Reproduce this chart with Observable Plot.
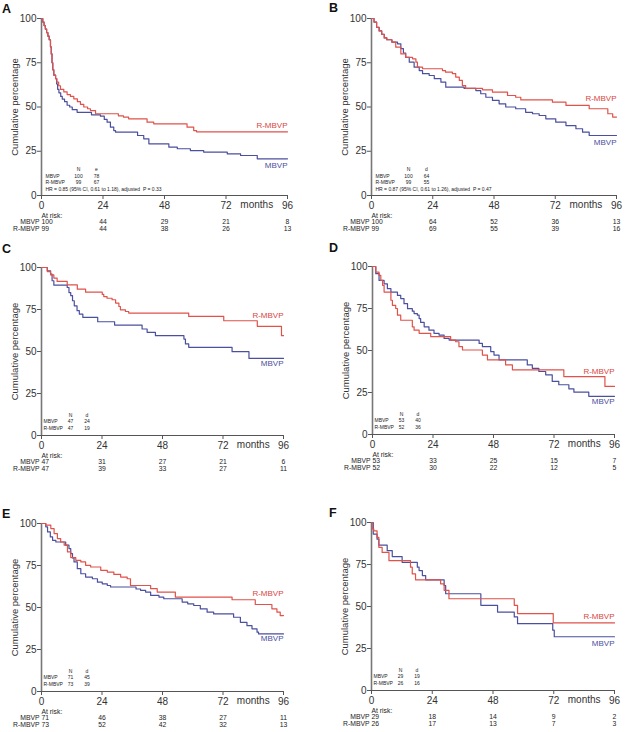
<!DOCTYPE html>
<html><head><meta charset="utf-8">
<script src="https://cdn.jsdelivr.net/npm/d3@7"></script>
<script src="https://cdn.jsdelivr.net/npm/@observablehq/plot@0.6"></script>
<style>
body{margin:0;background:#fff;font-family:"Liberation Sans",Arial,sans-serif;}
#root{position:relative;width:625px;height:732px;overflow:hidden;}
.panel{position:absolute;}
.letter{position:absolute;font-weight:bold;font-size:12.5px;line-height:1;color:#111;}
</style></head>
<body><div id="root"></div>
<script>
// ---------- data ----------
const xTicks = [0, 24, 48, 72, 96];
const yTicks = [0, 25, 50, 75, 100];
const riskTimes = [0, 24, 48, 72, 96];
const groups = ["MBVP", "R-MBVP"];

// Panel A
const mbvpA = [[0,100],[0.5,98],[1,96],[1.5,94],[2,92],[2.5,90],[3,88],[3.5,84],[3.8,80],[4.1,75],[4.4,71],[4.8,68],[5.5,66],[5.9,63],[6.3,60],[6.8,58],[7.5,56],[8.1,54.5],[9,53],[10,51],[11,50],[12,48.5],[13.9,47],[19.5,45.6],[23,44.8],[24.5,43],[25.6,41.4],[26.9,38.6],[28.2,36.7],[28.9,35.8],[37.5,33.9],[39.9,32],[41.9,29.2],[49.7,27.3],[53,26.4],[58.1,25.4],[63.3,24.5],[72.5,23.5],[77.7,22.6],[84.2,20.7],[96,20.7]];
const rmbvpA = [[0,100],[0.5,98],[1,96],[1.5,94],[2,92],[2.5,90],[3,88],[3.5,84],[3.8,80],[4.1,75],[4.4,71],[4.8,68],[5.5,66],[6,64],[6.7,62],[7.4,60],[8.7,58.5],[10,57],[11.3,56],[12.6,54.6],[14,53],[15.2,51.5],[16.5,50],[18,49],[19.1,48],[21.1,46.2],[30,45],[32,44.3],[34,43.3],[41.2,41.4],[43.8,40.5],[56.8,38.6],[59.4,36.7],[60.5,36],[96,36]];
const riskA_MBVP = [100, 44, 29, 21, 8];
const riskA_RMBVP = [99, 44, 38, 26, 13];
const nA = [100, 99];
const eventsA = [78, 67];
const hrA = "HR = 0.85 (95% CI, 0.61 to 1.18), adjusted  P = 0.33";
const labelYA = [17, 39.5];

// Panel B
const mbvpB = [[0,100],[1,98],[2,95],[3,93],[4,91],[5,89],[6,88],[8,86.6],[10.2,85.7],[11.5,83],[12.5,80.5],[13.4,78],[14.8,75.3],[16.7,72.5],[18.7,70.6],[20,68.8],[22.6,67.8],[24.6,66],[27.2,64],[29.1,61.2],[36.3,60.5],[40.9,59.3],[42.8,57.5],[44.8,55.5],[47.4,53.7],[50,51.8],[52.6,50],[56.5,49],[60.4,47],[63.1,46.2],[65.7,45.2],[68.3,43.3],[72.2,41.4],[76.2,39.5],[80.1,37.7],[82.7,35.8],[85.3,33.9],[96,33.9]];
const rmbvpB = [[0,100],[1,98],[2,95],[3,93],[4,91],[5,89],[6,88],[8,86.6],[9.5,83.8],[11.5,80],[13.4,78],[16.1,77.2],[17.4,75.3],[18,72.5],[20,71.6],[27.8,70.6],[29,69.7],[31.7,68.8],[33,66.9],[34.4,65],[35.6,62.1],[36.9,60.5],[43.5,59.7],[47.4,58.4],[53.3,56.5],[56.5,55.5],[58.5,54],[70.9,52.7],[76.2,50.9],[85.3,49],[92.6,46.2],[94.5,44.3],[96,44.3]];
const riskB_MBVP = [100, 64, 52, 36, 13];
const riskB_RMBVP = [99, 69, 55, 39, 16];
const nB = [100, 99];
const eventsB = [64, 55];
const hrB = "HR = 0.87 (95% CI, 0.61 to 1.26), adjusted  P = 0.47";
const labelYB = [30, 54.6];

// Panel C
const mbvpC = [[0,100],[2.3,98],[3.6,96],[4.2,92.1],[4.9,89.5],[10.2,88.1],[10.9,85.1],[11.6,83.2],[12.3,80.2],[13,77.2],[14.1,74.3],[15,72.3],[16.4,70.3],[22.3,67.7],[29,65.7],[39.9,63.4],[41.9,61.4],[45.2,59.4],[56.5,57.4],[57.1,54.5],[58.4,52.5],[75.6,49.9],[82.3,45.9],[96,45.9]];
const rmbvpC = [[0,100],[2.3,97.6],[3.6,95.6],[4.9,93.7],[6.2,91.7],[10.2,89.7],[14.2,87.1],[17.5,85.3],[24.1,84],[24.7,82.7],[26,81.7],[28,80.8],[29.4,78.8],[30.7,76.8],[31.3,74.8],[33.3,73.8],[34.6,72.9],[58.4,70.9],[72.3,68.3],[85.6,65],[95.2,59.4],[96,59.4]];
const riskC_MBVP = [47, 31, 27, 21, 6];
const riskC_RMBVP = [47, 39, 33, 27, 11];
const nC = [47, 47];
const eventsC = [24, 19];
const labelYC = [42.6, 71.3];

// Panel D
const mbvpD = [[0,100],[1.3,95.7],[2.6,91.7],[4.6,89.7],[5.9,86.8],[7.3,84.8],[9.9,82.8],[11.2,80.9],[12.5,77.9],[13.9,74.9],[15.8,73.4],[16.5,72],[17.8,71],[18.5,69],[19.1,66.7],[20.5,64.1],[22.4,62.1],[24.4,60.2],[26.4,59.2],[28.4,57.2],[30.4,56.2],[42.3,54.2],[43.6,52.3],[46.9,49.3],[48.2,47.3],[50.2,44.4],[61.4,41.4],[63.4,39.4],[66,37.5],[68.7,35.5],[71.3,31.6],[73.9,29.6],[77.9,27.2],[79.9,25.2],[85.8,22.7],[96,22.7]];
const rmbvpD = [[0,100],[1.3,96.6],[2.6,94.7],[3.3,91.7],[4,88.8],[4.6,84.8],[7.3,79.9],[7.9,76.9],[9.2,75],[9.9,71],[11.2,68],[15.8,64.1],[16.5,62.1],[18.5,60.2],[23.1,58.2],[31,56.2],[33,55.2],[34.3,52.3],[35.7,50.3],[43.6,47.3],[45.6,44.4],[52.8,41.4],[55.5,38.5],[75.9,34.5],[92.2,28.6],[96,28.6]];
const riskD_MBVP = [53, 33, 25, 15, 7];
const riskD_RMBVP = [52, 30, 22, 12, 5];
const nD = [53, 52];
const eventsD = [40, 36];
const labelYD = [19.7, 37.8];

// Panel E
const mbvpE = [[0,100],[1.7,98],[2.4,95],[3.5,92],[4.4,90],[5.7,89],[9.6,87.1],[10.9,85.1],[11.6,82.1],[12.3,79.5],[12.9,77.1],[14.2,73.1],[15.6,70.1],[17.5,68.1],[20.2,67.1],[22.2,65.1],[24.1,64.1],[26.1,63.1],[27.4,62.2],[37.5,61],[39.3,60.2],[41.3,59.2],[43.3,57.2],[46.6,56.2],[48.5,55.2],[55.8,53.2],[58,52.2],[60.4,51.2],[63,49.2],[65.7,47.2],[68.3,46.2],[76.2,44.2],[78.9,41.2],[81.5,39.2],[83.5,37.3],[85.5,35.3],[86.1,34.3],[96,34.3]];
const rmbvpE = [[0,100],[1.7,99],[3.7,97],[5,94],[6.3,91],[7.6,89],[9,87.1],[10.3,83.1],[11.6,79.7],[13.6,78.1],[15.6,77.1],[17.5,75.1],[19.5,74.1],[23.5,72.1],[26.1,71.1],[28.7,69.7],[31.4,68.1],[34,67.1],[35.3,63.1],[43.3,61.2],[45.9,59.2],[53.1,56.2],[75.6,54.6],[84.8,51.8],[91.4,49.2],[93.4,47.2],[94.7,45.2],[96,45.2]];
const riskE_MBVP = [71, 46, 38, 27, 11];
const riskE_RMBVP = [73, 52, 42, 32, 13];
const nE = [71, 73];
const eventsE = [45, 39];
const labelYE = [31.3, 58.2];

// Panel F
const mbvpF = [[0,100],[0.7,93.1],[2.2,90.1],[2.9,86.5],[6.2,83.2],[8.2,79.7],[12.1,76.3],[18.1,73.4],[18.8,71.4],[20.1,68.4],[21.4,65.9],[28.7,62.5],[29.3,57.6],[43.2,50.7],[49.8,46.7],[56.4,43.8],[57.7,39.8],[71.6,35.9],[72.2,32],[96,32]];
const rmbvpF = [[0,100],[0.3,96.2],[0.9,95],[2.2,91.1],[2.9,85.2],[4.2,82.2],[6.9,77.3],[15.4,73.4],[16.1,69.4],[17.4,65.9],[27.3,63.5],[28.7,59.6],[30.6,54.6],[56.4,50.7],[57.7,45.8],[71.8,40.2],[96,40.2]];
const riskF_MBVP = [29, 18, 14, 9, 2];
const riskF_RMBVP = [26, 17, 13, 7, 3];
const nF = [29, 26];
const eventsF = [19, 16];
const labelYF = [28, 44.2];

// ---------- styling ----------
const BLUE = "#4a4f9e";
const RED = "#e0524a";
const RED_TXT = "#d9463f";
const INK = "#222";

const panels = [
  {letter:"A", left:0,   top:0,   width:312, height:240, mt:18, mb:45, ml:41, mr:25, lx:2,   ly:3,
   mbvp:mbvpA, rmbvp:rmbvpA, risk:[riskA_MBVP, riskA_RMBVP], n:nA, ev:eventsA, evLabel:"e", hr:hrA, labelY:labelYA},
  {letter:"B", left:312, top:0,   width:313, height:240, mt:18, mb:45, ml:59, mr:9,  lx:329, ly:2,
   mbvp:mbvpB, rmbvp:rmbvpB, risk:[riskB_MBVP, riskB_RMBVP], n:nB, ev:eventsB, evLabel:"d", hr:hrB, labelY:labelYB},
  {letter:"C", left:0,   top:240, width:312, height:240, mt:27, mb:45, ml:41, mr:29, lx:2,   ly:243,
   mbvp:mbvpC, rmbvp:rmbvpC, risk:[riskC_MBVP, riskC_RMBVP], n:nC, ev:eventsC, evLabel:"d", hr:null, labelY:labelYC},
  {letter:"D", left:312, top:240, width:313, height:239, mt:26, mb:45, ml:60, mr:11, lx:329, ly:242,
   mbvp:mbvpD, rmbvp:rmbvpD, risk:[riskD_MBVP, riskD_RMBVP], n:nD, ev:eventsD, evLabel:"d", hr:null, labelY:labelYD},
  {letter:"E", left:0,   top:495, width:312, height:237, mt:28, mb:41, ml:41, mr:29, lx:2,   ly:508,
   mbvp:mbvpE, rmbvp:rmbvpE, risk:[riskE_MBVP, riskE_RMBVP], n:nE, ev:eventsE, evLabel:"d", hr:null, labelY:labelYE},
  {letter:"F", left:312, top:495, width:313, height:236, mt:27, mb:41, ml:59, mr:11, lx:329, ly:507,
   mbvp:mbvpF, rmbvp:rmbvpF, risk:[riskF_MBVP, riskF_RMBVP], n:nF, ev:eventsF, evLabel:"d", hr:null, labelY:labelYF}
];

function legendMarks(p) {
  const big = !!p.hr;
  const rows = big ? [-24.5, -18, -11.5] : [-19, -12.3, -5.5];
  const cLab = big ? 4 : 2, cN = big ? 37 : 29, cE = big ? 55 : 45.5;
  const fs = 5;
  const t = (str, dx, dy, anchor) => Plot.text([str], {text: d => d, frameAnchor: "bottom-left", dx, dy, textAnchor: anchor, fontSize: fs, fill: INK});
  const m = [
    t("N", cN, rows[0], "middle"), t(p.evLabel, cE, rows[0], "middle")
  ];
  groups.forEach((g, i) => {
    m.push(t(g, cLab, rows[i + 1], "start"));
    m.push(t(String(p.n[i]), cN, rows[i + 1], "middle"));
    m.push(t(String(p.ev[i]), cE, rows[i + 1], "middle"));
  });
  if (big) m.push(t(p.hr, cLab, -5, "start"));
  return m;
}

function riskMarks(p) {
  const fs = 6.8;
  const rowDy = [28.5, 35.3];
  const m = [Plot.text(["At risk:"], {x: () => 0, text: d => d, frameAnchor: "bottom", dy: 22, textAnchor: "start", fontSize: fs, fill: INK})];
  groups.forEach((g, i) => {
    const rows = riskTimes.map((t, j) => ({t, n: p.risk[i][j]}));
    m.push(Plot.text([g], {x: () => 0, text: d => d, frameAnchor: "bottom", dy: rowDy[i], dx: -2, textAnchor: "end", fontSize: fs, fill: INK}));
    m.push(Plot.text(rows.filter(r => r.t === 0), {x: "t", text: d => String(d.n), frameAnchor: "bottom", dy: rowDy[i], textAnchor: "start", fontSize: fs, fill: INK}));
    m.push(Plot.text(rows.filter(r => r.t !== 0), {x: "t", text: d => String(d.n), frameAnchor: "bottom", dy: rowDy[i], textAnchor: "middle", fontSize: fs, fill: INK}));
  });
  return m;
}

const root = document.getElementById("root");
for (const p of panels) {
  const chart = Plot.plot({
    width: p.width, height: p.height,
    marginTop: p.mt, marginBottom: p.mb, marginLeft: p.ml, marginRight: p.mr,
    style: {fontFamily: '"Liberation Sans", Arial, sans-serif', fontSize: "10px", color: "#333", background: "transparent"},
    x: {domain: [0, 96]},
    y: {domain: [0, 100]},
    marks: [
      Plot.axisX({ticks: xTicks, tickSize: 4, tickPadding: 2, label: null, fontSize: 10, stroke: "#555"}),
      Plot.axisY({ticks: yTicks, tickSize: 4, tickPadding: 1, label: null, fontSize: 10, stroke: "#555"}),
      Plot.ruleY([0], {stroke: "#555", strokeWidth: 1}),
      Plot.ruleX([0], {stroke: "#777", strokeWidth: 1.6}),
      Plot.line(p.mbvp, {x: d => d[0], y: d => d[1], curve: "step-after", stroke: BLUE, strokeWidth: 1.2}),
      Plot.line(p.rmbvp, {x: d => d[0], y: d => d[1], curve: "step-after", stroke: RED, strokeWidth: 1.2}),
      Plot.text([p.labelY[0]], {x: () => 96, y: d => d, text: () => "MBVP", textAnchor: "end", fill: BLUE, fontSize: 8}),
      Plot.text([p.labelY[1]], {x: () => 96, y: d => d, text: () => "R-MBVP", textAnchor: "end", fill: RED_TXT, fontSize: 8}),
      Plot.text(["months"], {x: () => 84, text: d => d, frameAnchor: "bottom", dy: 12, fontSize: 10, fill: "#333"}),
      Plot.text(["Cumulative percentage"], {text: d => d, frameAnchor: "left", textAnchor: "middle", rotate: -90, dx: -27, fontSize: 9.5, fill: "#333"}),
      ...legendMarks(p),
      ...riskMarks(p)
    ]
  });
  const div = document.createElement("div");
  div.className = "panel";
  div.style.left = p.left + "px";
  div.style.top = p.top + "px";
  div.appendChild(chart);
  root.appendChild(div);
  const lab = document.createElement("div");
  lab.className = "letter";
  lab.style.left = p.lx + "px";
  lab.style.top = p.ly + "px";
  lab.textContent = p.letter;
  root.appendChild(lab);
}
</script></body></html>
